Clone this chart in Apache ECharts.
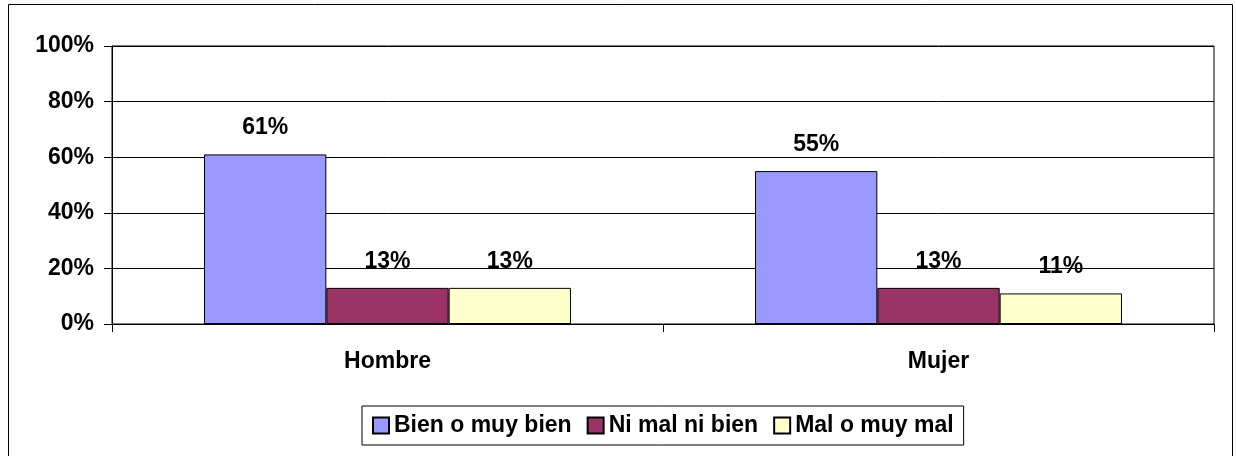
<!DOCTYPE html>
<html>
<head>
<meta charset="utf-8">
<script src="https://cdn.jsdelivr.net/npm/echarts@6/dist/echarts.min.js"></script>
<style>
html,body{margin:0;padding:0;background:#fff;}
#chart{width:1236px;height:456px;}
</style>
</head>
<body>
<div id="chart"></div>
<script>
const categories = ['Hombre', 'Mujer'];
const seriesNames = ['Bien o muy bien', 'Ni mal ni bien', 'Mal o muy mal'];
const bienValues = [61, 55];
const niValues = [13, 13];
const malValues = [13, 11];
const yTicks = [0, 20, 40, 60, 80, 100];
const colors = ['#9999FF', '#993366', '#FFFFCC'];

const FONT = '"Liberation Sans", Arial, sans-serif';
const FS = 23;
const chart = echarts.init(document.getElementById('chart'), null, {renderer: 'canvas'});

function mkSeries(name, data, color) {
  return {
    name: name,
    type: 'bar',
    data: data,
    barGap: '0%',
    barCategoryGap: '33.4%',
    itemStyle: {color: color, borderColor: '#000', borderWidth: 1},
    label: {
      show: true,
      position: 'top',
      distance: 15,
      formatter: p => Math.round(p.value) + '%',
      color: '#000',
      fontFamily: FONT,
      fontWeight: 'bold',
      fontSize: FS
    },
    emphasis: {disabled: true}
  };
}

chart.setOption({
  animation: false,
  backgroundColor: '#fff',
  graphic: [{
    type: 'rect',
    shape: {x: 8.5, y: 4.5, width: 1224, height: 470},
    style: {fill: 'none', stroke: '#000', lineWidth: 1},
    silent: true
  }],
  grid: {
    left: 112, right: 22, top: 46, bottom: 132,
    show: true, borderColor: '#000', borderWidth: 1, backgroundColor: 'transparent'
  },
  legend: {
    left: 362, top: 406,
    padding: [8, 10, 8, 10],
    borderColor: '#000', borderWidth: 1,
    itemWidth: 16, itemHeight: 16, itemGap: 15,
    icon: 'rect',
    data: seriesNames,
    textStyle: {fontFamily: FONT, fontWeight: 'bold', fontSize: FS, color: '#000'}
  },
  xAxis: {
    type: 'category',
    data: categories,
    axisLine: {show: true, lineStyle: {color: '#000', width: 1}},
    axisTick: {show: true, length: 8, lineStyle: {color: '#000'}},
    axisLabel: {margin: 26, color: '#000', fontFamily: FONT, fontWeight: 'bold', fontSize: FS}
  },
  yAxis: {
    type: 'value',
    min: yTicks[0], max: yTicks[yTicks.length - 1], interval: 20,
    axisLine: {show: true, lineStyle: {color: '#000', width: 1}},
    axisTick: {show: true, length: 8, lineStyle: {color: '#000'}},
    splitLine: {show: true, lineStyle: {color: '#000', width: 1}},
    axisLabel: {margin: 18, color: '#000', fontFamily: FONT, fontWeight: 'bold', fontSize: FS, formatter: v => v + '%'}
  },
  series: [
    mkSeries(seriesNames[0], bienValues, colors[0]),
    mkSeries(seriesNames[1], niValues, colors[1]),
    mkSeries(seriesNames[2], malValues, colors[2])
  ]
});
</script>
</body>
</html>
